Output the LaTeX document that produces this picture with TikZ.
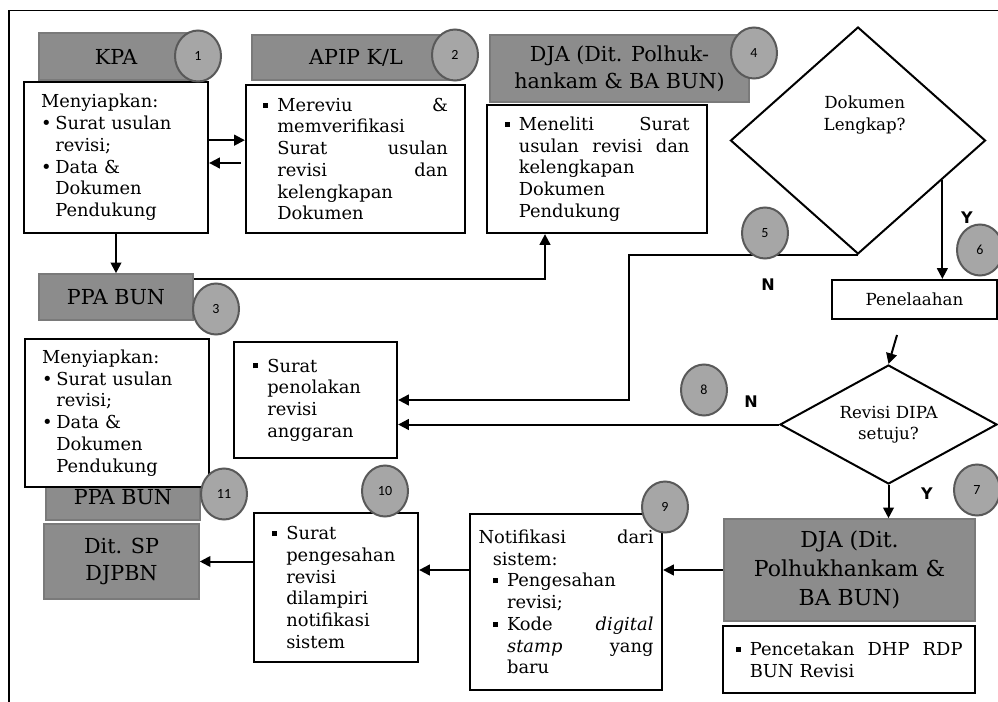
\documentclass[tikz,border=0pt]{standalone}
\usepackage{fontspec}
\setmainfont{DejaVu Serif}
\newfontfamily\numfont{Carlito}
\newfontfamily\ynfont{DejaVu Sans}
\usepackage{tikz}
\usetikzlibrary{arrows.meta,calc,shapes.geometric}
\definecolor{hdrgray}{HTML}{8C8C8C}
\definecolor{hdredge}{HTML}{7A7A7A}
\definecolor{numgray}{HTML}{A6A6A6}
\definecolor{numedge}{HTML}{595959}
\newcommand{\sqb}{\makebox[0.8em][l]{\rule[0.2em]{0.28em}{0.28em}}}
\newcommand{\rdb}{\makebox[0.8em][l]{\textbullet}}
\newcommand{\hng}{\hspace*{0.8em}}

\begin{document}
\begin{tikzpicture}[x=0.75pt,y=-0.75pt,
   hdr/.style={draw=hdredge,fill=hdrgray,line width=1.2pt,inner sep=0pt,align=center,
               font=\fontsize{15.5}{20}\selectfont},
   txtbox/.style={draw,fill=white,line width=1.7pt,inner sep=0pt,align=left,
               font=\fontsize{13.4}{16.3}\selectfont},
   num/.style={ellipse,draw=numedge,fill=numgray,line width=1.5pt,inner sep=0pt,
               minimum width=34.5pt,minimum height=38.25pt,font=\numfont\fontsize{10.5}{12}\selectfont},
   dmd/.style={diamond,draw,line width=1.5pt,inner sep=0pt,align=center,
               font=\fontsize{12.5}{16}\selectfont},
   yn/.style={font=\ynfont\bfseries\fontsize{12}{14}\selectfont},
   arr/.style={line width=1.5pt,-{Triangle[length=8pt,width=8pt]}}]
  \useasboundingbox (0,0) rectangle (998,702);
  \draw[line width=1.2pt] (9,702) |- (998,10.5);

  \node[hdr,minimum width=115.5pt,minimum height=35.25pt] (kpa) at (116,56.5) {KPA};
  \node[txtbox,minimum width=138pt,minimum height=113.25pt,text width=112.5pt] (prep) at (116,157.5)
    {Menyiapkan:\\ \rdb Surat usulan\\ \hng revisi;\\ \rdb Data \&\\ \hng Dokumen\\ \hng Pendukung};
  \node[hdr,minimum width=156pt,minimum height=33.75pt] (apip) at (356,57.5) {APIP K/L};
  \node[txtbox,minimum width=164.25pt,minimum height=111pt,text width=138.75pt] (revw) at (355.5,159)
    {\sqb Mereviu \hfill \&\\ \hng memverifikasi\\ \hng Surat \hfill usulan\\ \hng revisi \hfill dan\\
     \hng kelengkapan\\ \hng Dokumen};
  \node[hdr,minimum width=115.5pt,minimum height=34.5pt] (ppa) at (116,297) {PPA BUN};
  \node[hdr,minimum width=194.25pt,minimum height=50.25pt] (djah) at (619.5,68.5)
    {DJA (Dit. Polhuk-\\hankam \& BA BUN)};
  \node[txtbox,minimum width=165pt,minimum height=96pt,text width=138.75pt] (telit) at (597,169)
    {\sqb Meneliti \hfill Surat\\ \hng usulan \hfill revisi \hfill dan\\ \hng kelengkapan\\
     \hng Dokumen\\ \hng Pendukung};
  \node[dmd,shape aspect=1.12,minimum width=191.25pt,minimum height=170.25pt,
        label={[font=\fontsize{12.5}{16}\selectfont,align=center,xshift=5pt,yshift=19pt]center:Dokumen\\Lengkap?}]
    (dok) at (858,140.5) {};
  \node[txtbox,align=center,minimum width=123.75pt,minimum height=29.25pt,
        font=\fontsize{12.5}{15}\selectfont] (telaah) at (914.5,299.5) {Penelaahan};
  \coordinate (into) at (897,335);
  \node[dmd,shape aspect=1.82,minimum width=162.75pt,minimum height=89.25pt] (rev) at (888.5,424.5)
    {Revisi DIPA\\setuju?};
  \node[txtbox,minimum width=122.25pt,minimum height=87pt,text width=93.75pt] (tolak) at (315.5,400)
    {\sqb Surat\\ \hng penolakan\\ \hng revisi\\ \hng anggaran};
  \node[hdr,minimum width=115.5pt,minimum height=34.5pt] (ppb) at (123,497) {PPA BUN};
  \node[txtbox,minimum width=138pt,minimum height=111pt,text width=112.5pt] (prep2) at (117,413)
    {Menyiapkan:\\ \rdb Surat usulan\\ \hng revisi;\\ \rdb Data \&\\ \hng Dokumen\\ \hng Pendukung};
  \node[hdr,minimum width=116.25pt,minimum height=56.25pt] (ditsp) at (121.5,561.5) {Dit. SP\\DJPBN};
  \node[txtbox,minimum width=123pt,minimum height=111.75pt,text width=96pt] (sah) at (336,587.5)
    {\sqb Surat\\ \hng pengesahan\\ \hng revisi\\ \hng dilampiri\\ \hng notifikasi\\ \hng sistem};
  \node[txtbox,minimum width=144pt,minimum height=132pt,text width=131.25pt] (notif) at (566,602)
    {Notifikasi \hfill dari\\ \hng sistem:\\ \hng\sqb Pengesahan\\ \hng\hng revisi;\\
     \hng\sqb Kode \hfill \textit{digital}\\ \hng\hng \textit{stamp} \hfill yang\\ \hng\hng baru};
  \node[hdr,font=\fontsize{16.5}{21.5}\selectfont,minimum width=188.25pt,minimum height=76.5pt]
    (dja2) at (849.5,570) {DJA (Dit.\\Polhukhankam \&\\BA BUN)};
  \node[txtbox,minimum width=189pt,minimum height=50.25pt,text width=170.25pt] (cetak) at (849,659.5)
    {\sqb Pencetakan \hfill DHP \hfill RDP\\ \hng BUN Revisi};

  \draw[arr] ([yshift=13pt]prep.east) -- ([yshift=13pt]prep.east -| revw.west);
  \draw[arr] ([xshift=-3pt,yshift=-3pt]revw.west) -- ([yshift=-3pt]revw.west -| prep.east);
  \draw[arr] (prep.south) -- (ppa.north);
  \draw[arr] ([yshift=-4.5pt]ppa.north east) -| ($(telit.south)+(-52,0)$);
  \draw[arr] (dok.south) -| ($(tolak.east)+(231,0)$) -- (tolak.east);
  \draw[arr] (dok.-25) -- (dok.-25 |- telaah.north);
  \draw[arr] (into) -- (rev.north);
  \draw[arr] (rev.west) -- (rev.west -| tolak.east);
  \draw[arr] (rev.south) -- (rev.south |- dja2.north);
  \draw[arr] (dja2.west) -- (dja2.west -| notif.east);
  \draw[arr] (notif.west |- dja2.west) -- (sah.east |- dja2.west);
  \draw[arr] (sah.west |- ditsp.east) -- (ditsp.east);

  \node[yn] (nd1) at (768,285) {N};
  \node[yn] (yd1) at (967,218) {Y};
  \node[yn] (nd2) at (751,402) {N};
  \node[yn] (yd2) at (927,494) {Y};
  \foreach \k/\p in {1/{198,56},2/{455,55},3/{216,309},4/{754,53},5/{765,233},6/{980,250},
                     7/{977,490},8/{704,390},9/{665,507},10/{385,491},11/{224,494}}
    \node[num] (n\k) at (\p) {\k};
\end{tikzpicture}
\end{document}
